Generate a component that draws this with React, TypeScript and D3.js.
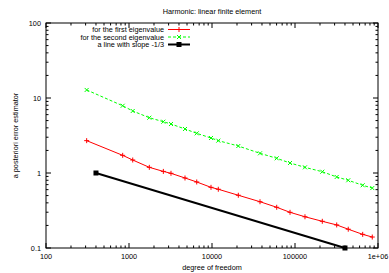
import React from "react";
import * as d3 from "d3";

const dof = [309, 839, 1109, 1757, 2593, 3206, 4729, 6546, 9730, 11910, 20750, 37880, 60220, 87100, 131900, 213300, 318000, 438200, 654000, 853000];
const firstEig = [2.70, 1.72, 1.49, 1.19, 1.05, 0.99, 0.858, 0.759, 0.644, 0.607, 0.505, 0.414, 0.349, 0.299, 0.261, 0.227, 0.203, 0.178, 0.152, 0.140];
const secondEig = [12.8, 7.88, 6.71, 5.46, 4.83, 4.50, 3.86, 3.38, 2.93, 2.70, 2.29, 1.83, 1.57, 1.36, 1.19, 1.04, 0.885, 0.80, 0.686, 0.63];
const slopeX = [400, 400000];
const slopeY = [1, 0.1];
const xTicks = [100, 1000, 10000, 100000, 1000000];
const xTickLabels = ["100", "1000", "10000", "100000", "1e+06"];
const yTicks = [0.1, 1, 10, 100];
const yTickLabels = ["0.1", "1", "10", "100"];
const legendLabels = ["for the first eigenvalue", "for the second eigenvalue", "a line with slope -1/3"];

export default function App() {
  const W = 389, H = 273;
  const L = 46, R = 378, T = 23, B = 248;
  const x = d3.scaleLog().domain([100, 1e6]).range([L, R]);
  const y = d3.scaleLog().domain([0.1, 100]).range([B, T]);
  const line = d3.line<[number, number]>().x(d => x(d[0])).y(d => y(d[1]));
  const font = "'Liberation Sans', Arial, sans-serif";
  const fs = 7.3;

  const xMinor: number[] = [];
  for (let e = 2; e < 6; e++) for (let k = 2; k <= 9; k++) xMinor.push(k * Math.pow(10, e));
  const yMinor: number[] = [];
  for (let e = -1; e < 2; e++) for (let k = 2; k <= 9; k++) yMinor.push(k * Math.pow(10, e));

  const plus = (cx: number, cy: number, c: string, key: string) => (
    <path key={key} d={`M${cx - 2.5},${cy}H${cx + 2.5}M${cx},${cy - 2.5}V${cy + 2.5}`} stroke={c} strokeWidth={1} />
  );
  const cross = (cx: number, cy: number, c: string, key: string) => (
    <path key={key} d={`M${cx - 2},${cy - 2}L${cx + 2},${cy + 2}M${cx - 2},${cy + 2}L${cx + 2},${cy - 2}`} stroke={c} strokeWidth={1} />
  );
  const sq = (cx: number, cy: number, key: string) => (
    <rect key={key} x={cx - 2.5} y={cy - 2.5} width={5} height={5} fill="#000" />
  );

  const redPts = dof.map((d, i) => [d, firstEig[i]] as [number, number]);
  const greenPts = dof.map((d, i) => [d, secondEig[i]] as [number, number]);
  const blackPts = slopeX.map((d, i) => [d, slopeY[i]] as [number, number]);

  const legY = [29.5, 37, 44.5];
  const lx0 = 168, lx1 = 190, lxm = 179;

  return (
    <svg width={W} height={H} style={{ position: "absolute", left: 0, top: 0, background: "#fff" }} fontFamily={font}>
      <rect x={0} y={0} width={W} height={H} fill="#fff" />
      <text x={212} y={14} fontSize={fs} textAnchor="middle" fill="#000">Harmonic: linear finite element</text>
      <g stroke="#000" strokeWidth={1}>
        {xTicks.map(t => (
          <g key={"xt" + t}>
            <line x1={x(t)} x2={x(t)} y1={B} y2={B - 5} />
            <line x1={x(t)} x2={x(t)} y1={T} y2={T + 5} />
          </g>
        ))}
        {xMinor.map(t => (
          <g key={"xm" + t}>
            <line x1={x(t)} x2={x(t)} y1={B} y2={B - 2.5} />
            <line x1={x(t)} x2={x(t)} y1={T} y2={T + 2.5} />
          </g>
        ))}
        {yTicks.map(t => (
          <g key={"yt" + t}>
            <line x1={L} x2={L + 5} y1={y(t)} y2={y(t)} />
            <line x1={R} x2={R - 5} y1={y(t)} y2={y(t)} />
          </g>
        ))}
        {yMinor.map(t => (
          <g key={"ym" + t}>
            <line x1={L} x2={L + 2.5} y1={y(t)} y2={y(t)} />
            <line x1={R} x2={R - 2.5} y1={y(t)} y2={y(t)} />
          </g>
        ))}
      </g>
      <rect x={L} y={T} width={R - L} height={B - T} fill="none" stroke="#000" strokeWidth={1} />
      {xTicks.map((t, i) => (
        <text key={"xl" + t} x={x(t)} y={B + 10.5} fontSize={fs} textAnchor="middle" fill="#000">{xTickLabels[i]}</text>
      ))}
      {yTicks.map((t, i) => (
        <text key={"yl" + t} x={L - 5} y={y(t) + 2.6} fontSize={fs} textAnchor="end" fill="#000">{yTickLabels[i]}</text>
      ))}
      <text x={212} y={270} fontSize={fs} textAnchor="middle" fill="#000">degree of freedom</text>
      <text transform={`translate(17.5,${(T + B) / 2}) rotate(-90)`} fontSize={fs} textAnchor="middle" fill="#000">a posteriori error estimator</text>

      <path d={line(redPts) || ""} fill="none" stroke="#ff0000" strokeWidth={1} />
      {redPts.map((p, i) => plus(x(p[0]), y(p[1]), "#ff0000", "r" + i))}
      <path d={line(greenPts) || ""} fill="none" stroke="#00ff00" strokeWidth={1} strokeDasharray="3,2" />
      {greenPts.map((p, i) => cross(x(p[0]), y(p[1]), "#00ff00", "g" + i))}
      <path d={line(blackPts) || ""} fill="none" stroke="#000" strokeWidth={2} />
      {blackPts.map((p, i) => sq(x(p[0]), y(p[1]), "b" + i))}

      {legendLabels.map((lab, i) => (
        <text key={"lg" + i} x={164} y={legY[i] + 2.6} fontSize={fs} textAnchor="end" fill="#000">{lab}</text>
      ))}
      <line x1={lx0} x2={lx1} y1={legY[0]} y2={legY[0]} stroke="#ff0000" strokeWidth={1} />
      {plus(lxm, legY[0], "#ff0000", "lp")}
      <line x1={lx0} x2={lx1} y1={legY[1]} y2={legY[1]} stroke="#00ff00" strokeWidth={1} strokeDasharray="3,2" />
      {cross(lxm, legY[1], "#00ff00", "lc")}
      <line x1={lx0} x2={lx1} y1={legY[2]} y2={legY[2]} stroke="#000" strokeWidth={2} />
      {sq(lxm, legY[2], "ls")}
    </svg>
  );
}
